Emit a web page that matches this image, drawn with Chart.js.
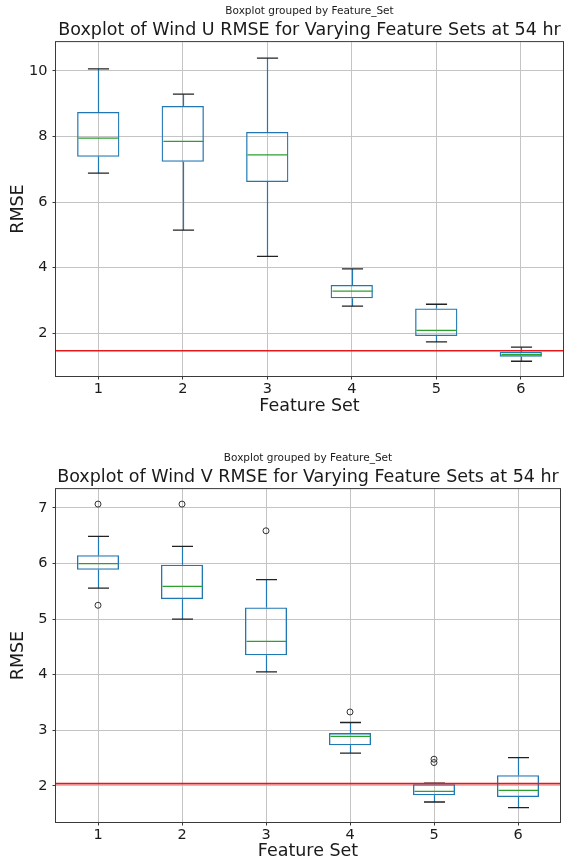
<!DOCTYPE html>
<html>
<head>
<meta charset="utf-8">
<script src="https://cdn.jsdelivr.net/npm/chart.js@4.4.1/dist/chart.umd.min.js"></script>
<style>
    html, body { margin: 0; padding: 0; background: #fff; overflow: hidden; }
    .fig { position: absolute; left: 0; width: 565px; }
    #figU { top: 0; height: 420px; }
    #figV { top: 447px; height: 417px; }
</style>
</head>
<body>
<div class="fig" id="figU"><canvas id="chartU"></canvas></div>
<div class="fig" id="figV"><canvas id="chartV"></canvas></div>
<script>
const featureSets = ["1", "2", "3", "4", "5", "6"];

// Wind U RMSE (whisker low, q1, median, q3, whisker high)
const uLow    = [6.88, 5.14, 4.34, 2.82, 1.73, 1.14];
const uQ1     = [7.38, 7.23, 6.61, 3.06, 1.91, 1.28];
const uMedian = [7.95, 7.85, 7.44, 3.28, 2.08, 1.35];
const uQ3     = [8.75, 8.93, 8.14, 3.47, 2.75, 1.43];
const uHigh   = [10.06, 9.29, 10.39, 3.96, 2.88, 1.57];
const uFliers = [];
const uReference = 1.46;
const uTicks = [2, 4, 6, 8, 10];

// Wind V RMSE
const vLow    = [5.56, 5.00, 4.05, 2.59, 1.71, 1.61];
const vQ1     = [5.89, 5.36, 4.35, 2.73, 1.83, 1.80];
const vMedian = [6.00, 5.59, 4.60, 2.89, 1.90, 1.92];
const vQ3     = [6.15, 5.98, 5.21, 2.95, 2.03, 2.19];
const vHigh   = [6.49, 6.31, 5.71, 3.14, 2.05, 2.51];
const vFliers = [
    { x: "1", y: 7.07 }, { x: "1", y: 5.25 },
    { x: "2", y: 7.07 }, { x: "3", y: 6.59 },
    { x: "4", y: 3.33 }, { x: "5", y: 2.48 }, { x: "5", y: 2.42 }
];
const vReference = 2.04;
const vTicks = [2, 3, 4, 5, 6, 7];

const boxBlue = "#1f77b4";
const medianGreen = "#2ca02c";
const gridGray = "#c4c4c4";
const frameColor = "#3a3a3a";
const textColor = "#1a1a1a";

Chart.defaults.font.family = "'DejaVu Sans', sans-serif";
Chart.defaults.color = textColor;

// whiskers, caps, medians, reference line and frame
const boxExtras = {
    id: "boxExtras",
    afterDatasetsDraw(chart, args, opts) {
        const { ctx, chartArea } = chart;
        const xs = chart.scales.x;
        const ys = chart.scales.y;
        const bars = chart.getDatasetMeta(0).data;
        const boxes = chart.data.datasets[0].data;
        ctx.save();
        opts.median.forEach((m, i) => {
            const cx = Math.round(xs.getPixelForValue(i)) + 0.5;
            const half = bars[i].width / 2;
            const pLow = ys.getPixelForValue(opts.low[i]);
            const pHigh = ys.getPixelForValue(opts.high[i]);
            // whiskers
            ctx.strokeStyle = boxBlue;
            ctx.lineWidth = 1.2;
            ctx.beginPath();
            ctx.moveTo(cx, ys.getPixelForValue(boxes[i][1]));
            ctx.lineTo(cx, pHigh);
            ctx.moveTo(cx, ys.getPixelForValue(boxes[i][0]));
            ctx.lineTo(cx, pLow);
            ctx.stroke();
            // caps
            ctx.strokeStyle = "#222";
            ctx.lineWidth = 1.3;
            ctx.beginPath();
            ctx.moveTo(cx - half / 2, pHigh);
            ctx.lineTo(cx + half / 2, pHigh);
            ctx.moveTo(cx - half / 2, pLow);
            ctx.lineTo(cx + half / 2, pLow);
            ctx.stroke();
            // median
            const pMed = ys.getPixelForValue(m);
            ctx.strokeStyle = medianGreen;
            ctx.lineWidth = 1.2;
            ctx.beginPath();
            ctx.moveTo(cx - half + 1, pMed);
            ctx.lineTo(cx + half - 1, pMed);
            ctx.stroke();
        });
        // reference line
        const pRef = ys.getPixelForValue(opts.reference);
        ctx.strokeStyle = "#e41a1a";
        ctx.lineWidth = 1.6;
        ctx.beginPath();
        ctx.moveTo(chartArea.left, pRef);
        ctx.lineTo(chartArea.right, pRef);
        ctx.stroke();
        // frame
        ctx.strokeStyle = frameColor;
        ctx.lineWidth = 1;
        ctx.strokeRect(chartArea.left - 0.5, chartArea.top - 0.5,
            chartArea.right - chartArea.left + 1, chartArea.bottom - chartArea.top + 1);
        ctx.restore();
    }
};

function makeBoxplot(canvasId, p) {
    const canvas = document.getElementById(canvasId);
    const H = canvas.parentNode.clientHeight;
    return new Chart(canvas, {
        type: "bar",
        data: {
            labels: featureSets,
            datasets: [
                {
                    data: p.q1.map((q, i) => [q, p.q3[i]]),
                    backgroundColor: "rgba(0,0,0,0)",
                    borderColor: boxBlue,
                    borderWidth: 1.3,
                    borderSkipped: false,
                    barPercentage: 0.5,
                    categoryPercentage: 1
                },
                {
                    type: "line",
                    data: p.fliers,
                    showLine: false,
                    pointStyle: "circle",
                    pointRadius: 3,
                    pointBorderWidth: 1,
                    pointBorderColor: "#333",
                    pointBackgroundColor: "rgba(0,0,0,0)"
                }
            ]
        },
        plugins: [boxExtras],
        options: {
            responsive: true,
            maintainAspectRatio: false,
            animation: false,
            layout: { padding: { left: 0, right: 2, top: 0, bottom: 0 } },
            plugins: {
                legend: { display: false },
                tooltip: { enabled: false },
                title: {
                    display: true,
                    text: "Boxplot grouped by Feature_Set",
                    fullSize: false,
                    color: textColor,
                    font: { size: 10.5, weight: "normal", lineHeight: 1.2 },
                    padding: { top: 5, bottom: 0 }
                },
                subtitle: {
                    display: true,
                    text: p.title,
                    fullSize: false,
                    color: textColor,
                    font: { size: 17.5, weight: "normal", lineHeight: 1.2 },
                    padding: { top: 2.5, bottom: 1 }
                },
                boxExtras: {
                    low: p.low,
                    high: p.high,
                    median: p.median,
                    reference: p.reference
                }
            },
            scales: {
                x: {
                    offset: true,
                    grid: { offset: false, color: gridGray, lineWidth: 1, tickColor: frameColor, tickLength: 3.5 },
                    border: { display: false },
                    ticks: { font: { size: 14.5 }, color: textColor, padding: 1, maxRotation: 0 },
                    title: {
                        display: true,
                        text: "Feature Set",
                        color: textColor,
                        font: { size: 17.5, lineHeight: 1.2 },
                        padding: { top: 0, bottom: p.xTitlePad }
                    },
                    afterFit: (s) => { s.height = H - p.plotBottom; }
                },
                y: {
                    min: p.min,
                    max: p.max,
                    afterBuildTicks: (s) => { s.ticks = p.ticks.map(v => ({ value: v })); },
                    grid: { color: gridGray, lineWidth: 1, tickColor: frameColor, tickLength: 3.5 },
                    border: { display: false },
                    ticks: { font: { size: 14.5 }, color: textColor, padding: 5 },
                    title: {
                        display: true,
                        text: "RMSE",
                        color: textColor,
                        font: { size: 17.5, lineHeight: 1.2 },
                        padding: { top: 7.5, bottom: 0 }
                    },
                    afterFit: (s) => { s.width = 56; }
                }
            }
        }
    });
}

makeBoxplot("chartU", {
    title: "Boxplot of Wind U RMSE for Varying Feature Sets at 54 hr",
    low: uLow, q1: uQ1, median: uMedian, q3: uQ3, high: uHigh,
    fliers: uFliers, reference: uReference, ticks: uTicks,
    min: 0.69, max: 10.88, plotBottom: 376, xTitlePad: 3.3
});

makeBoxplot("chartV", {
    title: "Boxplot of Wind V RMSE for Varying Feature Sets at 54 hr",
    low: vLow, q1: vQ1, median: vMedian, q3: vQ3, high: vHigh,
    fliers: vFliers, reference: vReference, ticks: vTicks,
    min: 1.35, max: 7.34, plotBottom: 375, xTitlePad: 1.6
});
</script>
</body>
</html>
